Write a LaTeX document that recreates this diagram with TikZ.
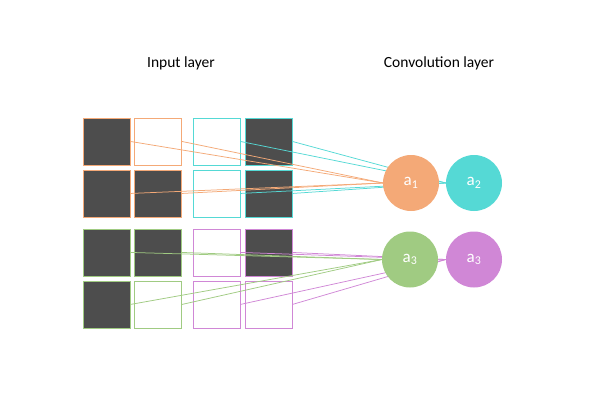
\documentclass[tikz,border=0pt]{standalone}
\usepackage{fontspec}
\setmainfont{Carlito}
\definecolor{corange}{HTML}{F4A977}
\definecolor{ccyan}{HTML}{55D9D5}
\definecolor{cgreen}{HTML}{A0CB82}
\definecolor{cpurple}{HTML}{D087D6}
\definecolor{cdark}{HTML}{4D4D4D}
\begin{document}
\begin{tikzpicture}[x=1pt,y=-1pt,
  cell/.style={draw=#1, line width=0.9pt, minimum size=47pt, inner sep=0pt, anchor=north west},
  darkcell/.style={cell=#1, fill=cdark},
  lightcell/.style={cell=#1, fill=white},
  neuron/.style={circle, fill=#1, minimum size=56pt, inner sep=0pt, text=white, font=\fontsize{17}{20}\selectfont},
  conn/.style={draw=#1, line width=0.75pt},
  title/.style={font=\fontsize{15.5}{18}\selectfont}]
\useasboundingbox (0,0) rectangle (594,412);
% titles
\node[title] (tin) at (181,63) {Input layer};
\node[title] (tconv) at (439,63) {Convolution layer};
% orange block
\node[darkcell=corange] (o11) at (82.5,117.5) {};
\node[lightcell=corange] (o12) at (134,117.5) {};
\node[darkcell=corange] (o21) at (82.5,169.5) {};
\node[darkcell=corange] (o22) at (134,169.5) {};
% cyan block
\node[lightcell=ccyan] (c11) at (192.5,117.5) {};
\node[darkcell=ccyan] (c12) at (244.5,117.5) {};
\node[lightcell=ccyan] (c21) at (192.5,169.5) {};
\node[darkcell=ccyan] (c22) at (244.5,169.5) {};
% green block
\node[darkcell=cgreen] (g11) at (82.5,228.5) {};
\node[darkcell=cgreen] (g12) at (134,228.5) {};
\node[darkcell=cgreen] (g21) at (82.5,280.5) {};
\node[lightcell=cgreen] (g22) at (134,280.5) {};
% purple block
\node[lightcell=cpurple] (p11) at (192.5,228.5) {};
\node[darkcell=cpurple] (p12) at (244.5,228.5) {};
\node[lightcell=cpurple] (p21) at (192.5,280.5) {};
\node[lightcell=cpurple] (p22) at (244.5,280.5) {};
% neuron coordinates (placed before connectors)
\coordinate (A1) at (411,183);
\coordinate (A2) at (474,183);
\coordinate (A3) at (410,259.5);
\coordinate (A4) at (474,259.5);
% connectors
\foreach \s in {c11,c12,c21,c22} \draw[conn=ccyan] (\s.east) -- ([xshift=-28pt]A2);
\foreach \s in {o11,o12,o21,o22} \draw[conn=corange] (\s.east) -- ([xshift=-28pt]A1);
\foreach \s in {p11,p12,p21,p22} \draw[conn=cpurple] (\s.east) -- ([xshift=-28pt]A4);
\foreach \s in {g11,g12,g21,g22} \draw[conn=cgreen] (\s.east) -- ([xshift=-28pt]A3);
% neurons
\node[neuron=corange] (a1) at (A1) {a\textsubscript{1}};
\node[neuron=ccyan] (a2) at (A2) {a\textsubscript{2}};
\node[neuron=cgreen] (a3) at (A3) {a\textsubscript{3}};
\node[neuron=cpurple] (a4) at (A4) {a\textsubscript{3}};
\end{tikzpicture}
\end{document}
